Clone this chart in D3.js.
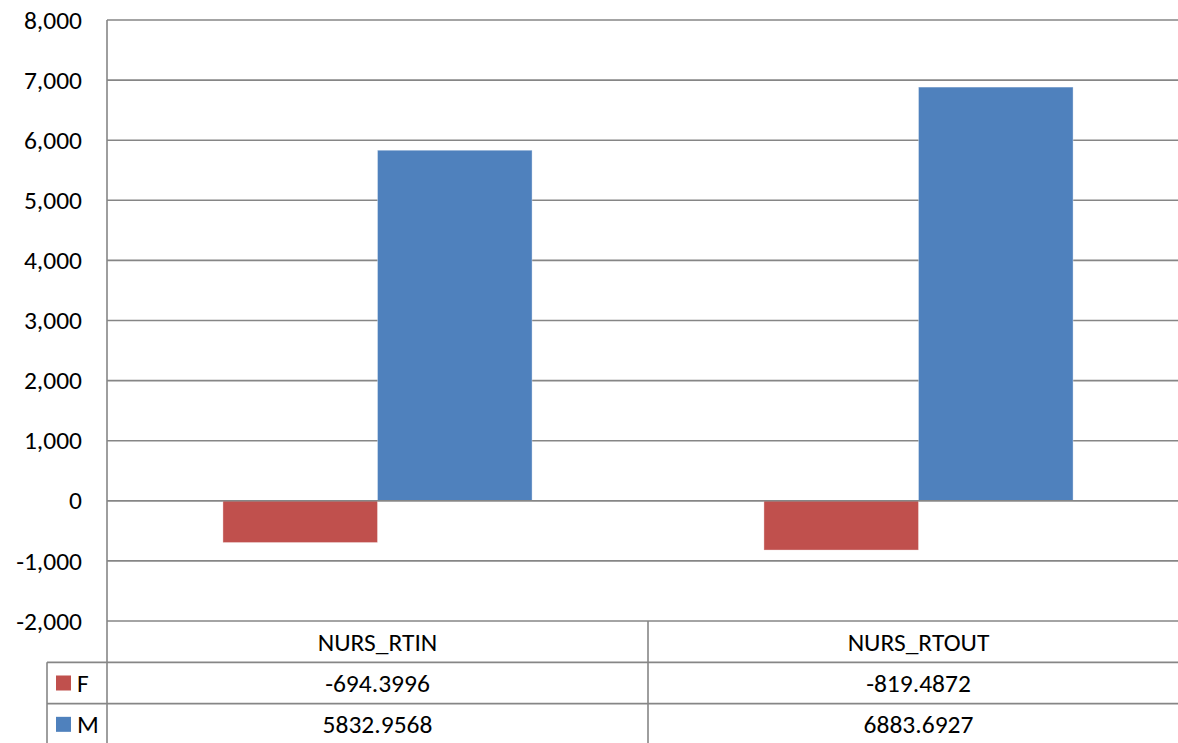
<!DOCTYPE html>
<html>
<head>
<meta charset="utf-8">
<script src="https://cdn.jsdelivr.net/npm/d3@7"></script>
<style>
  html, body { margin: 0; padding: 0; background: #fff; }
  svg { display: block; font-family: Carlito, "Open Sans", sans-serif; }
</style>
</head>
<body>
<div id="chart"></div>
<script>
const categories = ["NURS_RTIN", "NURS_RTOUT"];
const seriesNames = ["F", "M"];
const valuesF = [-694.3996, -819.4872];
const valuesM = [5832.9568, 6883.6927];
const yTicks = [-2000, -1000, 0, 1000, 2000, 3000, 4000, 5000, 6000, 7000, 8000];
const colors = { F: "#C0504D", M: "#4F81BD" };

const width = 1178, height = 743;
const plot = { left: 107, right: 1189, top: 20, bottom: 621 };
const tableLeft = 47, tableBottom = 745;
const gridColor = "#868686";
const fontSize = 25.5;

const svg = d3.select("#chart")
    .append("svg")
    .attr("width", width)
    .attr("height", height);

const y = d3.scaleLinear().domain([-2000, 8000]).range([plot.bottom, plot.top]);
const x = d3.scaleBand().domain(categories).range([plot.left, plot.right]).padding(0);
const xInner = d3.scaleBand().domain(seriesNames).range([0, x.bandwidth()])
    .paddingInner(0).paddingOuter(0.75);

// gridlines
svg.append("g")
    .selectAll("line")
    .data(yTicks)
    .enter()
    .append("line")
    .attr("x1", plot.left).attr("x2", width)
    .attr("y1", d => y(d)).attr("y2", d => y(d))
    .attr("stroke", gridColor)
    .attr("stroke-width", 1.6);

// y axis labels (hyphen minus like Excel)
const fmt = d3.format(",");
const yAxis = svg.append("g")
    .attr("transform", `translate(${plot.left - 25}, 0)`)
    .call(d3.axisLeft(y).tickValues(yTicks).tickSize(0).tickPadding(0)
        .tickFormat(d => fmt(d).replace("\u2212", "-")));
yAxis.select(".domain").remove();
yAxis.selectAll("text")
    .attr("font-family", "Carlito, 'Open Sans', sans-serif")
    .attr("font-size", fontSize)
    .attr("fill", "#000");

// bars
const barData = [];
categories.forEach((c, i) => {
    barData.push({ cat: c, series: "F", value: valuesF[i] });
    barData.push({ cat: c, series: "M", value: valuesM[i] });
});

svg.append("g")
    .selectAll("rect")
    .data(barData)
    .enter()
    .append("rect")
    .attr("x", d => x(d.cat) + xInner(d.series))
    .attr("y", d => y(Math.max(0, d.value)))
    .attr("width", xInner.bandwidth())
    .attr("height", d => Math.abs(y(d.value) - y(0)))
    .attr("fill", d => colors[d.series])
    .attr("stroke", "rgba(255,255,255,0.35)")
    .attr("stroke-width", 1);

// zero line on top of bars
svg.append("line")
    .attr("x1", plot.left).attr("x2", width)
    .attr("y1", y(0)).attr("y2", y(0))
    .attr("stroke", gridColor)
    .attr("stroke-width", 1.6);

// data table
const rowY = d3.scaleBand().domain(["header"].concat(seriesNames)).range([plot.bottom, tableBottom]);
const table = svg.append("g");

// horizontal lines
seriesNames.forEach(s => {
    table.append("line")
        .attr("x1", tableLeft).attr("x2", width)
        .attr("y1", rowY(s)).attr("y2", rowY(s))
        .attr("stroke", gridColor).attr("stroke-width", 1.6);
});
// vertical lines
table.append("line")
    .attr("x1", tableLeft).attr("x2", tableLeft)
    .attr("y1", rowY("F")).attr("y2", height)
    .attr("stroke", gridColor).attr("stroke-width", 1.6);
table.append("line")
    .attr("x1", plot.left).attr("x2", plot.left)
    .attr("y1", plot.top).attr("y2", height)
    .attr("stroke", gridColor).attr("stroke-width", 1.6);
categories.slice(1).forEach(c => {
    table.append("line")
        .attr("x1", x(c)).attr("x2", x(c))
        .attr("y1", plot.bottom).attr("y2", height)
        .attr("stroke", gridColor).attr("stroke-width", 1.6);
});

// header text
table.selectAll("text.cat")
    .data(categories)
    .enter()
    .append("text")
    .attr("class", "cat")
    .attr("x", d => x(d) + x.bandwidth() / 2)
    .attr("y", rowY("header") + rowY.bandwidth() / 2)
    .attr("dy", "0.35em")
    .attr("text-anchor", "middle")
    .attr("font-size", fontSize)
    .text(d => d);

// legend keys and values
const seriesValues = { F: valuesF, M: valuesM };
seriesNames.forEach(s => {
    const cy = rowY(s) + rowY.bandwidth() / 2;
    table.append("rect")
        .attr("x", tableLeft + 9)
        .attr("y", cy - 7.5)
        .attr("width", 15)
        .attr("height", 15)
        .attr("fill", colors[s]);
    table.append("text")
        .attr("x", tableLeft + 30)
        .attr("y", cy)
        .attr("dy", "0.35em")
        .attr("font-size", fontSize)
        .text(s);
    table.selectAll(null)
        .data(categories)
        .enter()
        .append("text")
        .attr("x", d => x(d) + x.bandwidth() / 2)
        .attr("y", cy)
        .attr("dy", "0.35em")
        .attr("text-anchor", "middle")
        .attr("font-size", fontSize)
        .text((d, i) => seriesValues[s][i]);
});
</script>
</body>
</html>
